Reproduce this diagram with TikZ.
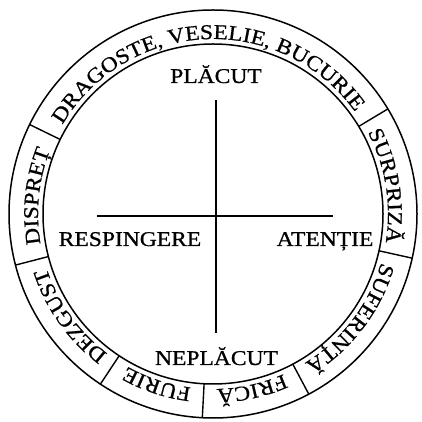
\documentclass[tikz,border=0pt]{standalone}
\usepackage{fontspec}
\setmainfont{Liberation Serif}
\newfontfamily\labfont[FakeStretch=1.12,FakeBold=0.8]{Liberation Serif}
\usetikzlibrary{decorations.text,calc}
\newcommand{\lf}{\labfont\fontsize{21}{25}\selectfont}
\tikzset{
  ring/.style={line width=1.5pt},
  axis/.style={line width=1.5pt},
  lab/.style={font=\lf, inner sep=0pt, anchor=base},
  divider/.style={line width=1.4pt},
}
\newcommand{\ringtext}[3]{%
  \path[decorate, decoration={text along path, text align=center,
    text={|\lf|#3}}]
    (C) ++(#1:175) arc[start angle=#1, end angle=#2, radius=175];}
\begin{document}
\begin{tikzpicture}[x=1pt,y=1pt]
\useasboundingbox (0,0) rectangle (422,422);
\fill[white] (0,0) rectangle (422,422);
\coordinate (C) at (213,208);
% circles
\draw[ring] (C) circle[radius=204];
\draw[ring] (C) circle[radius=170];
% dividers
\foreach \a in {154,31,-12.5,-62,-93,-123.5,194.5}
  \draw[divider] ($(C)+(\a:170)$) -- ($(C)+(\a:204)$);
% ring texts
\ringtext{154}{31}{DRAGOSTE, VESELIE, BUCURIE}
\ringtext{31}{-12.5}{SURPRIZĂ}
\ringtext{-12.5}{-62}{SUFERINȚĂ}
\ringtext{-62}{-93}{FRICĂ}
\ringtext{-93}{-123.5}{FURIE}
\ringtext{-123.5}{-165.5}{DEZGUST}
\ringtext{-165.5}{-206}{DISPREȚ}
% axes
\coordinate (top) at (216,322);
\coordinate (bot) at (216,89);
\coordinate (lft) at (97,206);
\coordinate (rgt) at (333,206);
\draw[axis] (top) -- (bot);
\draw[axis] (lft) -- (rgt);
% labels
\node[lab] (pl) at (216,339) {PLĂCUT};
\node[lab] (np) at (216.5,57) {NEPLĂCUT};
\node[lab] (rs) at (130,176) {RESPINGERE};
\node[lab] (at) at (325,176) {ATENȚIE};
\end{tikzpicture}
\end{document}
